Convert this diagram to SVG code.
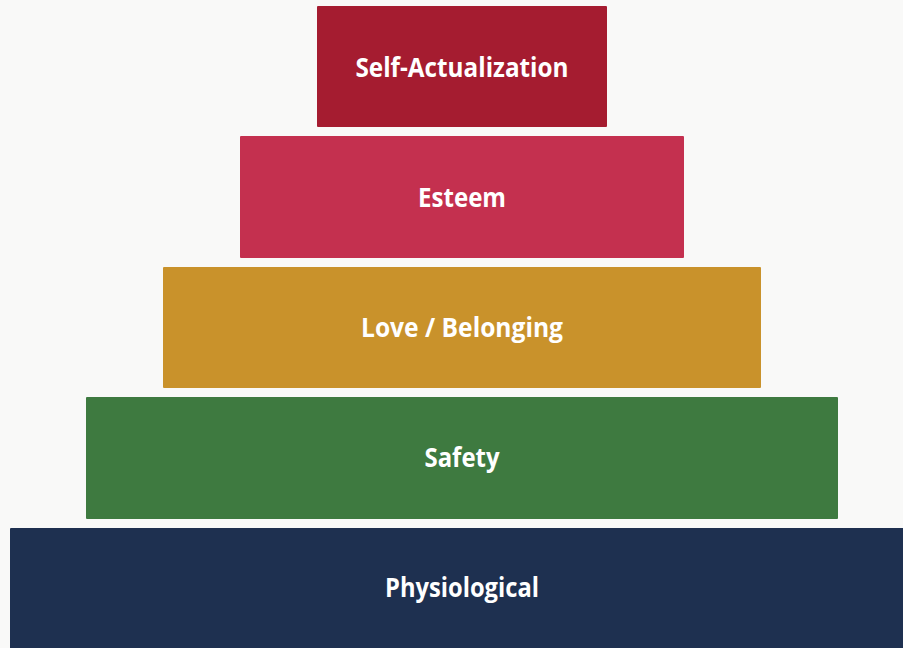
<svg xmlns="http://www.w3.org/2000/svg" width="903" height="648" viewBox="0 0 903 648">
<style>
.lbl{font-family:"Open Sans","Liberation Sans",sans-serif;font-weight:bold;font-size:26px;fill:#ffffff;text-anchor:middle}
</style>
<rect x="0" y="0" width="903" height="648" fill="#f9f9f8"/>
<g id="self-actualization">
<rect x="317" y="6" width="290" height="121" rx="1" fill="#a51c30"/>
<text class="lbl" x="462" y="77" textLength="213" lengthAdjust="spacingAndGlyphs">Self-Actualization</text>
</g>
<g id="esteem">
<rect x="240" y="136" width="444" height="122" rx="1" fill="#c4304f"/>
<text class="lbl" x="462" y="207" textLength="88" lengthAdjust="spacingAndGlyphs">Esteem</text>
</g>
<g id="love-belonging">
<rect x="163" y="267" width="598" height="121" rx="1" fill="#c9922b"/>
<text class="lbl" x="462" y="337" textLength="202" lengthAdjust="spacingAndGlyphs">Love / Belonging</text>
</g>
<g id="safety">
<rect x="86" y="397" width="752" height="122" rx="1" fill="#3e7a40"/>
<text class="lbl" x="462" y="467" textLength="75" lengthAdjust="spacingAndGlyphs">Safety</text>
</g>
<g id="physiological">
<rect x="10" y="528" width="905" height="125" rx="1" fill="#1e3050"/>
<text class="lbl" x="462" y="597" textLength="154" lengthAdjust="spacingAndGlyphs">Physiological</text>
</g>
<g id="connectors"/>
</svg>
